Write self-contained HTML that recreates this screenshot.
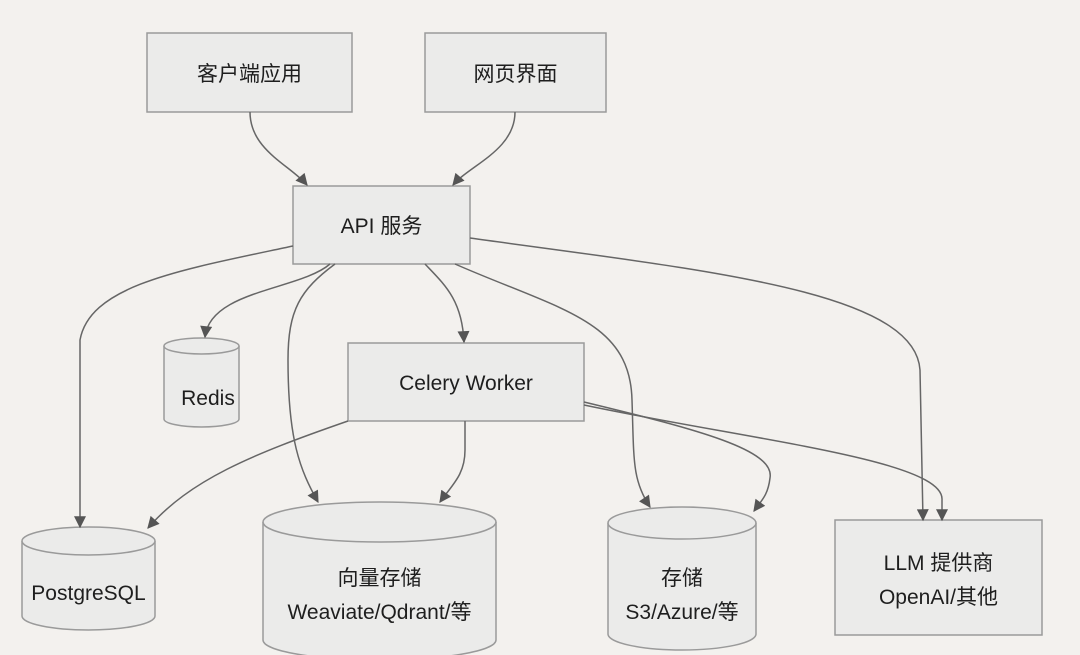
<!DOCTYPE html>
<html><head><meta charset="utf-8"><style>
html,body{margin:0;padding:0;background:#f3f1ee;}
svg{display:block}
text{font-family:"Liberation Sans","Noto Sans CJK SC",sans-serif;font-size:21px;fill:#1e1e1e;text-anchor:middle}
</style></head><body>
<svg width="1080" height="655" viewBox="0 0 1080 655" xmlns="http://www.w3.org/2000/svg">
<defs>
<marker id="a" viewBox="0 0 10 10" refX="9" refY="5" markerWidth="13" markerHeight="12" markerUnits="userSpaceOnUse" orient="auto">
<path d="M0,0 L10,5 L0,10 z" fill="#555"/></marker>
</defs>
<g fill="#ebebea" stroke="#9a9a9a" stroke-width="1.5">
<rect x="147" y="33" width="205" height="79"/>
<rect x="425" y="33" width="181" height="79"/>
<rect x="293" y="186" width="177" height="78"/>
<rect x="348" y="343" width="236" height="78"/>
<rect x="835" y="520" width="207" height="115"/>
<path d="M164,346 L164,419 A37.5,8 0 0 0 239,419 L239,346"/>
<ellipse cx="201.5" cy="346" rx="37.5" ry="8"/>
<path d="M22,541 L22,616 A66.5,14 0 0 0 155,616 L155,541"/>
<ellipse cx="88.5" cy="541" rx="66.5" ry="14"/>
<path d="M263,522 L263,640 A116.5,20 0 0 0 496,640 L496,522"/>
<ellipse cx="379.5" cy="522" rx="116.5" ry="20"/>
<path d="M608,523 L608,634 A74,16 0 0 0 756,634 L756,523"/>
<ellipse cx="682" cy="523" rx="74" ry="16"/>
</g>
<g fill="none" stroke="#666" stroke-width="1.5" marker-end="url(#a)">
<path d="M250,112 C250,150 290,165 307,185"/>
<path d="M515,112 C515,150 470,165 453,185"/>
<path d="M293,246 C180,270 90,285 80,340 L80,527"/>
<path d="M330,264 C300,290 210,290 205,337"/>
<path d="M335,264 C300,290 288,310 288,360 C288,440 300,470 318,502"/>
<path d="M425,264 C445,285 462,300 464,342"/>
<path d="M455,264 C560,310 630,320 632,400 C634,460 632,480 650,507"/>
<path d="M470,238 C700,270 915,290 920,370 L923,520"/>
<path d="M465,421 L465,450 C465,475 452,485 440,502"/>
<path d="M348,421 C250,455 190,480 148,528"/>
<path d="M584,402 C700,430 775,450 770,478 C768,495 762,500 754,511"/>
<path d="M584,405 C750,440 945,460 942,500 L942,520"/>
</g>
<text x="249.5" y="81">客户端应用</text>
<text x="515.5" y="81">网页界面</text>
<text x="381.5" y="233">API 服务</text>
<text x="466" y="390">Celery Worker</text>
<text x="208" y="405">Redis</text>
<text x="88.5" y="600">PostgreSQL</text>
<text x="379.5" y="585">向量存储</text>
<text x="379.5" y="619">Weaviate/Qdrant/等</text>
<text x="682" y="585">存储</text>
<text x="682" y="619">S3/Azure/等</text>
<text x="938.5" y="570">LLM 提供商</text>
<text x="938.5" y="604">OpenAI/其他</text>
</svg>
</body></html>
